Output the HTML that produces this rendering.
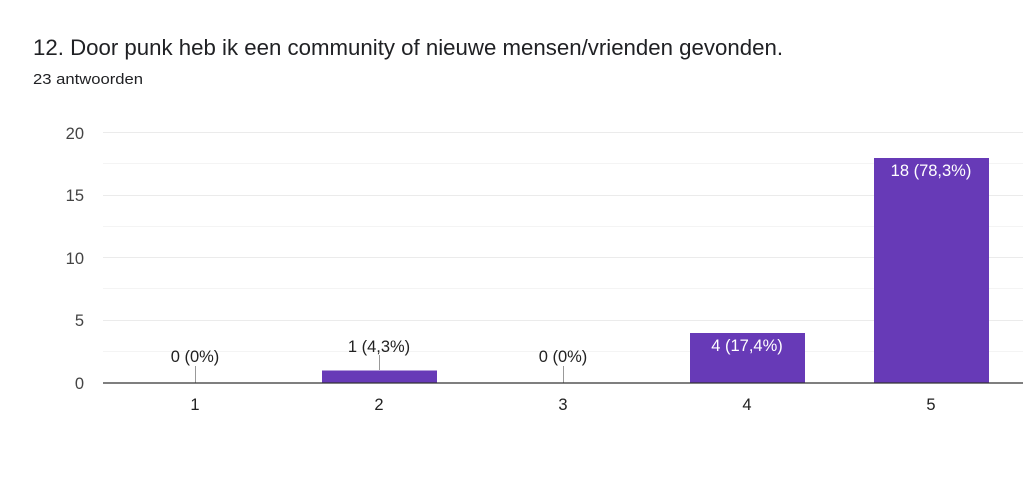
<!DOCTYPE html>
<html><head><meta charset="utf-8"><style>
body{margin:0;background:#fff;width:1024px;height:487px;overflow:hidden;font-family:"Liberation Sans",Arial,sans-serif;}
</style></head><body>
<svg width="1024" height="487" xmlns="http://www.w3.org/2000/svg" font-family="Liberation Sans, Arial, sans-serif">
<text x="33" y="55" font-size="22" fill="#202124" textLength="750" lengthAdjust="spacingAndGlyphs">12. Door punk heb ik een community of nieuwe mensen/vrienden gevonden.</text>
<text x="33" y="84" font-size="15" fill="#202124" textLength="110" lengthAdjust="spacingAndGlyphs">23 antwoorden</text>
<g stroke="#ebebeb" stroke-width="1">
<line x1="103" x2="1023" y1="132.5" y2="132.5"/>
<line x1="103" x2="1023" y1="163.5" y2="163.5" stroke="#f4f4f4"/>
<line x1="103" x2="1023" y1="195.5" y2="195.5"/>
<line x1="103" x2="1023" y1="226.5" y2="226.5" stroke="#f4f4f4"/>
<line x1="103" x2="1023" y1="257.5" y2="257.5"/>
<line x1="103" x2="1023" y1="288.5" y2="288.5" stroke="#f4f4f4"/>
<line x1="103" x2="1023" y1="320.5" y2="320.5"/>
<line x1="103" x2="1023" y1="351.5" y2="351.5" stroke="#f4f4f4"/>
</g>
<g font-size="16.5" fill="#444" text-anchor="end">
<text x="84" y="139">20</text><text x="84" y="201">15</text><text x="84" y="264">10</text><text x="84" y="326">5</text><text x="84" y="389">0</text>
</g>
<g fill="#673ab7">
<rect x="322" y="370.5" width="115" height="12.5"/>
<rect x="690" y="333" width="115" height="50"/>
<rect x="874" y="158" width="115" height="225"/>
</g>
<g stroke="#999" stroke-width="1">
<line x1="195.5" x2="195.5" y1="366" y2="383"/>
<line x1="379.5" x2="379.5" y1="355" y2="370"/>
<line x1="563.5" x2="563.5" y1="366" y2="383"/>
</g>
<line x1="103" x2="1023" y1="383" y2="383" stroke="#333" stroke-width="1.2"/>
<g font-size="16.5" fill="#222" text-anchor="middle">
<text x="195" y="362">0 (0%)</text>
<text x="379" y="352">1 (4,3%)</text>
<text x="563" y="362">0 (0%)</text>
<text x="747" y="351" fill="#fff">4 (17,4%)</text>
<text x="931" y="176" fill="#fff">18 (78,3%)</text>
<text x="195" y="410">1</text><text x="379" y="410">2</text><text x="563" y="410">3</text><text x="747" y="410">4</text><text x="931" y="410">5</text>
</g>
</svg>
</body></html>
